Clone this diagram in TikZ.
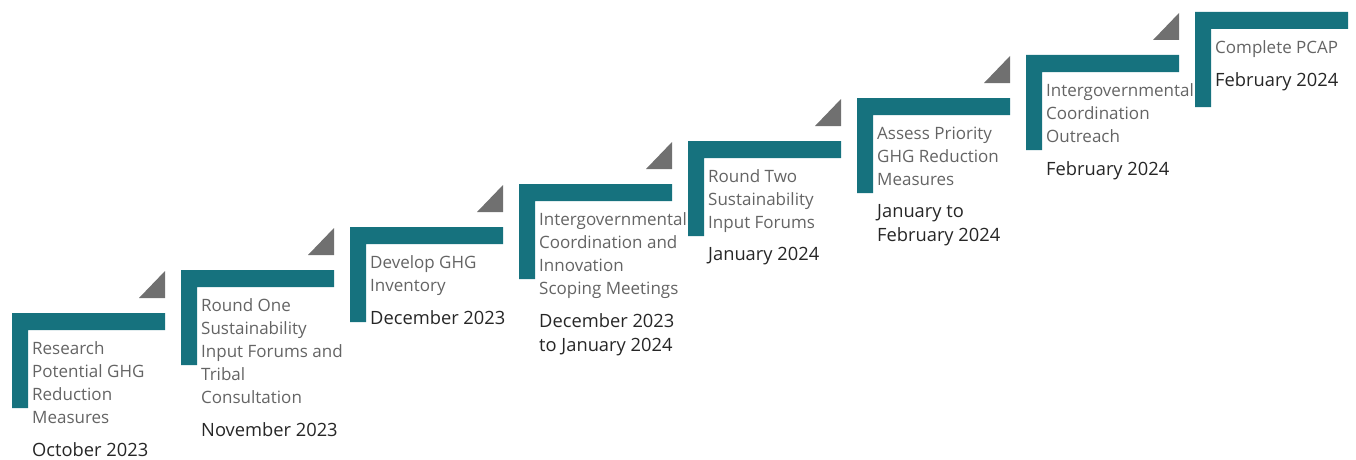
\documentclass[tikz,border=0pt]{standalone}
\usepackage{fontspec}
\setmainfont{Open Sans}
\definecolor{teal1}{RGB}{22,114,126}
\definecolor{tri}{RGB}{112,112,112}
\definecolor{desccol}{RGB}{100,100,100}
\definecolor{datecol}{RGB}{38,38,38}
\tikzset{
  desc/.style={anchor=north west, inner sep=0pt, align=left, text=desccol,
    font={\fontsize{17}{23}\selectfont}},
  datetxt/.style={anchor=north west, inner sep=0pt, align=left, text=datecol,
    font={\fontsize{18.3}{24}\selectfont}},
  bar/.style={fill=teal1, draw=none},
  tric/.style={fill=tri, draw=none}
}
\newcommand{\stepL}[4]{% #1 index, #2 desc, #3 date, #4 number of desc lines
  \pgfmathsetmacro{\Lx}{12+169*#1}
  \pgfmathsetmacro{\Ty}{313-43*#1}
  \fill[bar] (\Lx,\Ty) -- ++(153,0) -- ++(0,17) -- ++(-137,0) -- ++(0,78) -- ++(-16,0) -- cycle;
  \node[desc] (d#1) at (\Lx+20,\Ty+28.5) {#2};
  \pgfmathsetmacro{\Dy}{\Ty+28+23*(#4-1)+32}
  \node[datetxt] (t#1) at (\Lx+20,\Dy) {#3};
}
\newcommand{\triL}[1]{%
  \pgfmathsetmacro{\Lx}{12+169*#1}
  \pgfmathsetmacro{\Ty}{313-43*#1}
  \fill[tric] (\Lx+127,\Ty-15) -- (\Lx+153,\Ty-15) -- (\Lx+153,\Ty-42) -- cycle;
}
\begin{document}
\begin{tikzpicture}[x=1pt,y=-1pt]
\useasboundingbox (0,0) rectangle (1356,460);
\foreach \i in {0,...,6} {\triL{\i}}
\stepL{0}{Research\\Potential GHG\\Reduction\\Measures}{October 2023}{4}
\stepL{1}{Round One\\Sustainability\\Input Forums and\\Tribal\\Consultation}{November 2023}{5}
\stepL{2}{Develop GHG\\Inventory}{December 2023}{2}
\stepL{3}{Intergovernmental\\Coordination and\\Innovation\\Scoping Meetings}{December 2023\\to January 2024}{4}
\stepL{4}{Round Two\\Sustainability\\Input Forums}{January 2024}{3}
\stepL{5}{Assess Priority\\GHG Reduction\\Measures}{January to\\February 2024}{3}
\stepL{6}{Intergovernmental\\Coordination\\Outreach}{February 2024}{3}
\stepL{7}{Complete PCAP}{February 2024}{1}
\end{tikzpicture}
\end{document}
